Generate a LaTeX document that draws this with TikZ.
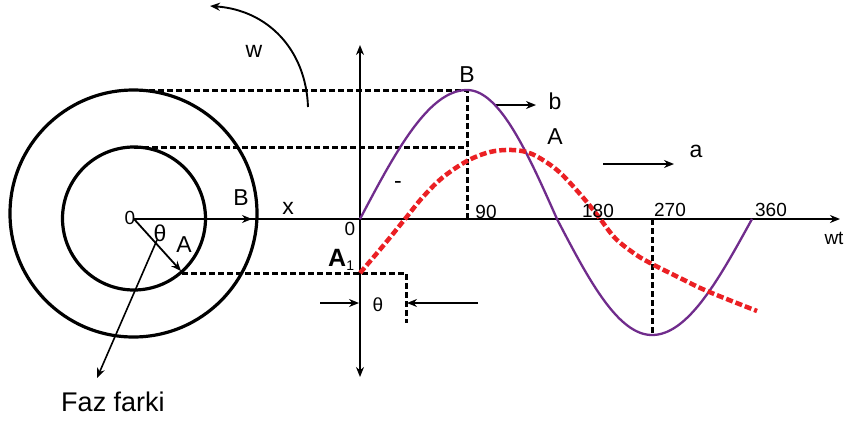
\documentclass[tikz,border=0pt]{standalone}
\usepackage{fontspec}
\setmainfont{Liberation Sans}
\usetikzlibrary{arrows.meta}
\definecolor{wavepurple}{RGB}{112,44,140}
\definecolor{phasered}{RGB}{235,32,36}
\begin{document}
\begin{tikzpicture}[x=1pt,y=-1pt,
  lbl/.style={inner sep=0pt,font=\fontsize{23}{26}\selectfont},
  num/.style={inner sep=0pt,font=\fontsize{19}{22}\selectfont},
  circ/.style={line width=3.2pt},
  guide/.style={line width=3pt,dash pattern=on 6pt off 3pt},
  axis/.style={line width=1.7pt},
  tip/.style={-{Stealth[length=10pt,width=8pt]}},
  wave/.style={line width=2.3pt,draw=wavepurple},
  phase/.style={line width=4.5pt,draw=phasered,dash pattern=on 7pt off 3pt}
]
\useasboundingbox (0,0) rectangle (846,421);

% key points
\coordinate (O) at (134,219);
\coordinate (Btip) at (252,219);
\coordinate (xend) at (840,219);
\coordinate (ytop) at (360,45);
\coordinate (ybot) at (360,377);
\coordinate (Atip) at (181,271);
\coordinate (Apt) at (182,273);
\coordinate (A1) at (360,273);
\coordinate (Z) at (406,273);
\coordinate (Zax) at (406,219);
\coordinate (Zbot) at (406,323);
\coordinate (top1) at (140,90);
\coordinate (peak) at (467,90);
\coordinate (peakax) at (467,219);
\coordinate (top2) at (134,147);
\coordinate (mid2) at (467,147);
\coordinate (trax) at (652,219);
\coordinate (trough) at (652,335);
\coordinate (fzs) at (157,240);
\coordinate (fze) at (97,378);
\coordinate (w1) at (308,107);
\coordinate (w2) at (210,6);

% circles
\draw[circ] (133.5,213.5) circle[radius=123.5];
\draw[circ] (134,218.5) circle[radius=71.5];

% dashed projection lines
\draw[guide] (top1) -- (peak) -- (peakax);
\draw[guide] (top2) -- (mid2);
\draw[guide] (Apt) -- (Z) -- (Zbot);
\draw[guide] (trax) -- (trough);

% axes
\draw[axis,tip] (O) -- (xend);
\draw[axis,tip] (O) -- (Btip);
\draw[axis,{Stealth[length=10pt,width=8pt]}-{Stealth[length=10pt,width=8pt]}] (ytop) -- (ybot);

% radius to A and phase arrow
\draw[line width=1.8pt,tip] (O) -- (Atip);
\draw[line width=1.6pt,tip] (fzs) -- (fze);

% rotation arrow
\draw[line width=1.9pt,tip] (w1) .. controls (306,50) and (268,10) .. (w2);

% theta arrows
\coordinate (th1) at (320,303);
\coordinate (th1e) at (359,303);
\coordinate (th2) at (478,303);
\coordinate (th2e) at (407,303);
\draw[line width=1.5pt,tip] (th1) -- (th1e);
\draw[line width=1.5pt,tip] (th2) -- (th2e);

% b and a arrows
\coordinate (b1) at (495,105);
\coordinate (b2) at (536,105);
\coordinate (a1) at (603,164);
\coordinate (a2) at (674,164);
\draw[line width=1.8pt,tip] (b1) -- (b2);
\draw[line width=1.8pt,tip] (a1) -- (a2);

% purple sine
\draw[wave] plot[domain=360:467,samples=40] (\x,{219-129*sin(90*(\x-360)/107)})
  -- plot[domain=467:557,samples=40] (\x,{219-129*cos(90*(\x-467)/90)})
  -- plot[domain=557:652,samples=40] (\x,{219+116*sin(90*(\x-557)/95)})
  -- plot[domain=652:752,samples=40] (\x,{219+116*cos(90*(\x-652)/100)});

% red dashed wave
\draw[phase] plot[smooth,tension=0.55] coordinates {(360,273) (383,246) (405,219) (422,198) (442,178) (467,161) (490,152) (512,150) (532,154) (557,170) (580,194) (598,216) (615,238) (635,254) (652,264) (680,278) (707,291) (757,311)};

% labels
\node[lbl] (lw) at (254,51) {w};
\node[num] (l0a) at (130,218) {0};
\node[lbl] (lth) at (160,233) {θ};
\node[lbl] (lA) at (184,245) {A};
\node[lbl] (lB) at (241,198) {B};
\node[lbl] (lx) at (288,208) {x};
\node[num] (l0b) at (350,229) {0};
\node[lbl,anchor=base west] (lA1) at (328,266) {\fontsize{25}{26}\selectfont\textbf{A}\raisebox{-4pt}{\fontsize{14}{15}\selectfont 1}};
\node[num] (lth2) at (378,305) {θ};
\node[lbl] (lm) at (398,185) {-};
\node[lbl] (lBt) at (467,75) {B};
\node[lbl] (lb) at (555,101) {b};
\node[lbl] (lAt) at (555,137) {A};
\node[lbl] (la) at (696,151) {a};
\node[num] (n90) at (486,212) {90};
\node[num] (n180) at (598,211) {180};
\node[num] (n270) at (670,210) {270};
\node[num] (n360) at (771,210) {360};
\node[num] (lwt) at (834,238) {wt};
\node[lbl,font=\fontsize{27}{30}\selectfont] (lfaz) at (113,402) {Faz farki};
\end{tikzpicture}
\end{document}
